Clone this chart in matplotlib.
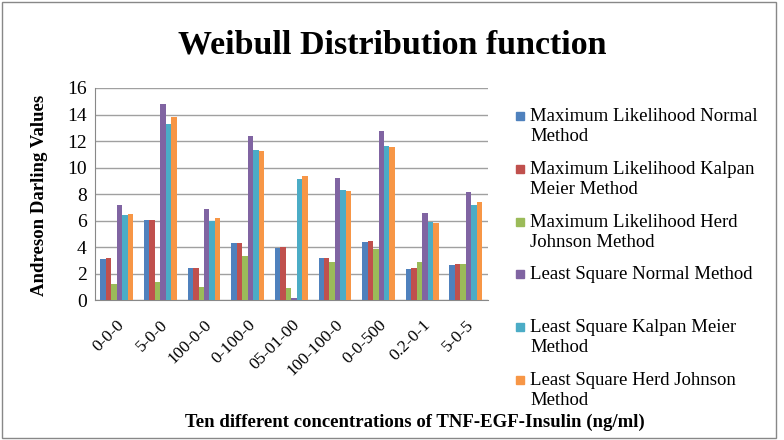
import matplotlib.pyplot as plt
import numpy as np
from matplotlib.patches import Rectangle

plt.rcParams['font.family'] = ['Liberation Serif', 'DejaVu Serif']

# concentrations (TNF-EGF-Insulin)
categories = ["0-0-0", "5-0-0", "100-0-0", "0-100-0", "05-01-00",
              "100-100-0", "0-0-500", "0.2-0-1", "5-0-5"]

series_names = [
    "Maximum Likelihood Normal\nMethod",
    "Maximum Likelihood Kalpan\nMeier Method",
    "Maximum Likelihood Herd\nJohnson Method",
    "Least Square Normal Method",
    "Least Square Kalpan Meier\nMethod",
    "Least Square Herd Johnson\nMethod",
]

# Andreson Darling values
ml_normal = [3.10, 6.05, 2.39, 4.28, 3.95, 3.15, 4.38, 2.37, 2.62]
ml_kalpan = [3.15, 6.07, 2.44, 4.33, 4.00, 3.17, 4.48, 2.44, 2.72]
ml_herd = [1.18, 1.36, 0.98, 3.32, 0.88, 2.87, 3.83, 2.85, 2.72]
ls_normal = [7.18, 14.80, 6.88, 12.39, 0.15, 9.19, 12.77, 6.57, 8.16]
ls_kalpan = [6.45, 13.30, 6.00, 11.31, 9.12, 8.29, 11.66, 5.89, 7.18]
ls_herd = [6.50, 13.83, 6.22, 11.23, 9.35, 8.24, 11.54, 5.79, 7.38]

series = [ml_normal, ml_kalpan, ml_herd, ls_normal, ls_kalpan, ls_herd]
colors = ['#4F81BD', '#C0504D', '#9BBB59', '#8064A2', '#4BACC6', '#F79646']

fig = plt.figure(figsize=(7.84, 4.4), dpi=100)
ax = fig.add_axes([0.121, 0.318, 0.501, 0.482])

x = np.arange(len(categories))
bw = 0.125
for i, (vals, c) in enumerate(zip(series, colors)):
    ax.bar(x + (i - 2.5) * bw, vals, width=bw, color=c, zorder=3)

ax.set_xlim(-0.5, len(categories) - 0.5)
ax.set_ylim(0, 16)
ax.set_yticks(range(0, 17, 2))
ax.yaxis.grid(True, color='#a0a0a0', linewidth=1, zorder=0)
for s in ['top', 'right']:
    ax.spines[s].set_visible(False)
ax.spines['left'].set_color('#888888')
ax.spines['bottom'].set_color('#888888')
ax.tick_params(axis='y', labelsize=14, length=0, pad=6)
ax.tick_params(axis='x', length=0, pad=12)
ax.set_xticks(x)
ax.set_xticklabels(categories, rotation=45, ha='right', rotation_mode='anchor', fontsize=12.5)

fig.text(0.5, 0.898, "Weibull Distribution function", ha='center', va='center',
         fontsize=24.5, fontweight='bold')
fig.text(0.051, 0.555, "Andreson Darling Values", rotation=90, ha='center', va='center',
         fontsize=13.5, fontweight='bold')
fig.text(0.529, 0.041, "Ten different concentrations of TNF-EGF-Insulin (ng/ml)",
         ha='center', va='center', fontsize=13.5, fontweight='bold')

# legend drawn by hand so the marker sits on the first line
W, H = 784.0, 440.0
for i, (name, c) in enumerate(zip(series_names, colors)):
    yc = 116 + i * 52.8
    fig.add_artist(Rectangle((516 / W, 1 - (yc + 4) / H), 8 / W, 8 / H,
                             transform=fig.transFigure, color=c))
    fig.text(530 / W, 1 - (yc - 8) / H, name, ha='left', va='top',
             fontsize=13.5, linespacing=1.25)

fig.add_artist(Rectangle((0.002, 0.004), 0.988, 0.992, transform=fig.transFigure,
                         fill=False, edgecolor='#888888', linewidth=1))

fig.savefig("out.png", dpi=100)
